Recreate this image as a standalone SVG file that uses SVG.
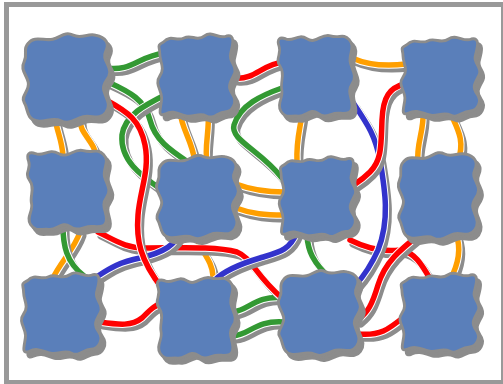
<svg xmlns="http://www.w3.org/2000/svg" xmlns:xlink="http://www.w3.org/1999/xlink" width="503" height="384" viewBox="0 0 503 384">
<style>
.sh{fill:none;stroke:#8c8c8c;stroke-width:7;stroke-linecap:round}
.wh{fill:none;stroke:#fff;stroke-width:7.5;stroke-linecap:round}
.c{fill:none;stroke-width:5.5;stroke-linecap:round}
.o{stroke:#ff9f00}.g{stroke:#339933}.r{stroke:#ff0000}.b{stroke:#3333cc}
.nsh{fill:#8c8c8c;stroke:#8c8c8c;stroke-width:3}
.nd{fill:#5a7fba;stroke:#8c8c8c;stroke-width:3}
</style>
<defs>
<path id="bA" d="M -38,-34 C -32,-42 -22,-36 -14,-38 C -6,-40 -2,-46 6,-42 C 14,-38 20,-44 28,-42 C 38,-40 42,-34 38,-26 C 34,-18 42,-14 42,-6 C 42,2 34,4 36,12 C 38,20 44,26 38,34 C 32,42 24,36 16,38 C 8,40 2,46 -6,42 C -14,38 -22,44 -30,42 C -40,40 -38,30 -42,24 C -46,18 -36,12 -38,4 C -40,-4 -46,-8 -42,-16 C -38,-24 -44,-28 -38,-34 Z"/>
<path id="bB" d="M -36,-34 C -28,-42 -22,-34 -14,-38 C -6,-42 0,-34 8,-40 C 16,-46 24,-36 32,-40 C 42,-42 38,-30 36,-22 C 34,-14 44,-10 40,-2 C 36,6 32,10 38,18 C 44,26 38,36 30,36 C 22,36 18,44 10,40 C 2,36 -4,42 -12,40 C -20,38 -26,34 -34,38 C -44,42 -38,30 -38,22 C -38,14 -46,8 -40,0 C -34,-8 -40,-14 -40,-22 C -40,-30 -44,-30 -36,-34 Z"/>
<path id="bC" d="M -34,-38 C -26,-34 -20,-44 -10,-38 C 0,-32 6,-44 16,-41 C 26,-38 30,-44 37,-37 C 44,-30 36,-22 38,-14 C 40,-6 46,0 40,8 C 34,16 40,22 40,30 C 40,40 32,38 24,38 C 16,38 10,44 2,38 C -6,32 -12,42 -20,41 C -28,40 -34,44 -39,36 C -44,28 -36,22 -38,14 C -40,6 -34,-2 -40,-10 C -46,-18 -38,-22 -41,-30 C -44,-38 -40,-40 -34,-38 Z"/>
<path id="o1" d="M 55,118 C 57,132 62,140 63,156"/>
<path id="o2" d="M 80,120 C 80,135 95,140 97,160"/>
<path id="o3" d="M 180,112 C 182,130 192,140 195,162"/>
<path id="o4" d="M 208,112 C 210,130 204,145 207,165"/>
<path id="o5" d="M 352,58 C 370,66 390,66 406,64"/>
<path id="o6" d="M 302,114 C 300,130 296,140 297,162"/>
<path id="o7" d="M 423,114 C 424,130 416,145 418,162"/>
<path id="o8" d="M 450,112 C 458,130 465,140 458,162"/>
<path id="o9" d="M 236,184 C 252,190 265,192 284,192"/>
<path id="o10" d="M 236,208 C 252,214 265,215 284,215"/>
<path id="o11" d="M 80,232 C 74,250 60,262 52,280"/>
<path id="o12" d="M 195,232 C 198,250 212,258 213,276"/>
<path id="o13" d="M 456,234 C 462,250 458,265 450,280"/>
<path id="g1" d="M 106,68 C 132,72 138,56 165,53"/>
<path id="g2" d="M 108,82 C 130,92 145,100 150,120 C 155,140 170,150 188,162"/>
<path id="g3" d="M 165,95 C 145,105 125,115 122,135 C 120,160 140,175 162,190"/>
<path id="g4" d="M 282,88 C 262,95 240,105 234,125 C 230,140 260,150 282,178"/>
<path id="g5" d="M 63,226 C 63,245 66,262 84,276"/>
<path id="g6" d="M 307,236 C 308,250 312,262 332,280"/>
<path id="g7" d="M 233,312 C 250,310 255,295 284,298"/>
<path id="g8" d="M 233,336 C 250,335 255,320 284,322"/>
<path id="r1" d="M 235,78 C 255,80 262,64 284,62"/>
<path id="r2" d="M 106,100 C 128,112 140,120 145,145 C 150,170 140,190 138,215 C 136,240 140,260 162,288"/>
<path id="r3" d="M 98,232 C 115,240 125,248 145,248 C 180,248 215,246 237,252 C 252,258 255,275 282,298"/>
<path id="r4" d="M 100,322 C 120,325 132,326 142,318 C 150,310 155,304 165,303"/>
<path id="r5" d="M 404,84 C 390,88 383,96 382,120 C 381,145 382,160 370,172 C 362,180 358,182 352,186"/>
<path id="r6" d="M 350,240 C 370,250 385,252 400,250 C 415,252 422,265 432,282"/>
<path id="r7" d="M 420,234 C 400,250 385,262 378,285 C 372,305 368,312 358,320"/>
<path id="r8" d="M 358,334 C 380,336 388,330 405,316"/>
<path id="b1" d="M 354,104 C 368,125 375,135 380,160 C 385,190 390,220 378,250 C 370,268 362,278 355,286"/>
<path id="b2" d="M 182,230 C 175,245 165,252 140,258 C 120,262 110,268 98,276"/>
<path id="b3" d="M 297,232 C 290,250 280,252 260,258 C 240,264 225,270 215,280"/>
</defs>
<rect x="0" y="0" width="503" height="384" fill="#fff"/>
<rect x="6.5" y="4.5" width="497" height="378" fill="#fff" stroke="#999" stroke-width="5"/>
<g id="connectors">
<g id="c-o1"><use href="#o1" class="sh" transform="translate(3,4)"/><use href="#o1" class="wh"/><use href="#o1" class="c o"/></g>
<g id="c-o2"><use href="#o2" class="sh" transform="translate(3,4)"/><use href="#o2" class="wh"/><use href="#o2" class="c o"/></g>
<g id="c-o3"><use href="#o3" class="sh" transform="translate(3,4)"/><use href="#o3" class="wh"/><use href="#o3" class="c o"/></g>
<g id="c-o4"><use href="#o4" class="sh" transform="translate(3,4)"/><use href="#o4" class="wh"/><use href="#o4" class="c o"/></g>
<g id="c-o5"><use href="#o5" class="sh" transform="translate(3,4)"/><use href="#o5" class="wh"/><use href="#o5" class="c o"/></g>
<g id="c-o6"><use href="#o6" class="sh" transform="translate(3,4)"/><use href="#o6" class="wh"/><use href="#o6" class="c o"/></g>
<g id="c-o7"><use href="#o7" class="sh" transform="translate(3,4)"/><use href="#o7" class="wh"/><use href="#o7" class="c o"/></g>
<g id="c-o8"><use href="#o8" class="sh" transform="translate(3,4)"/><use href="#o8" class="wh"/><use href="#o8" class="c o"/></g>
<g id="c-o9"><use href="#o9" class="sh" transform="translate(3,4)"/><use href="#o9" class="wh"/><use href="#o9" class="c o"/></g>
<g id="c-o10"><use href="#o10" class="sh" transform="translate(3,4)"/><use href="#o10" class="wh"/><use href="#o10" class="c o"/></g>
<g id="c-o11"><use href="#o11" class="sh" transform="translate(3,4)"/><use href="#o11" class="wh"/><use href="#o11" class="c o"/></g>
<g id="c-o12"><use href="#o12" class="sh" transform="translate(3,4)"/><use href="#o12" class="wh"/><use href="#o12" class="c o"/></g>
<g id="c-o13"><use href="#o13" class="sh" transform="translate(3,4)"/><use href="#o13" class="wh"/><use href="#o13" class="c o"/></g>
<g id="c-g1"><use href="#g1" class="sh" transform="translate(3,4)"/><use href="#g1" class="wh"/><use href="#g1" class="c g"/></g>
<g id="c-g2"><use href="#g2" class="sh" transform="translate(3,4)"/><use href="#g2" class="wh"/><use href="#g2" class="c g"/></g>
<g id="c-g3"><use href="#g3" class="sh" transform="translate(3,4)"/><use href="#g3" class="wh"/><use href="#g3" class="c g"/></g>
<g id="c-g4"><use href="#g4" class="sh" transform="translate(3,4)"/><use href="#g4" class="wh"/><use href="#g4" class="c g"/></g>
<g id="c-g5"><use href="#g5" class="sh" transform="translate(3,4)"/><use href="#g5" class="wh"/><use href="#g5" class="c g"/></g>
<g id="c-g6"><use href="#g6" class="sh" transform="translate(3,4)"/><use href="#g6" class="wh"/><use href="#g6" class="c g"/></g>
<g id="c-g7"><use href="#g7" class="sh" transform="translate(3,4)"/><use href="#g7" class="wh"/><use href="#g7" class="c g"/></g>
<g id="c-g8"><use href="#g8" class="sh" transform="translate(3,4)"/><use href="#g8" class="wh"/><use href="#g8" class="c g"/></g>
<g id="c-r3"><use href="#r3" class="sh" transform="translate(3,4)"/><use href="#r3" class="wh"/><use href="#r3" class="c r"/></g>
<g id="c-r6"><use href="#r6" class="sh" transform="translate(3,4)"/><use href="#r6" class="wh"/><use href="#r6" class="c r"/></g>
<g id="c-b2"><use href="#b2" class="sh" transform="translate(3,4)"/><use href="#b2" class="wh"/><use href="#b2" class="c b"/></g>
<g id="c-b3"><use href="#b3" class="sh" transform="translate(3,4)"/><use href="#b3" class="wh"/><use href="#b3" class="c b"/></g>
<g id="c-b1"><use href="#b1" class="sh" transform="translate(3,4)"/><use href="#b1" class="wh"/><use href="#b1" class="c b"/></g>
<g id="c-r1"><use href="#r1" class="sh" transform="translate(3,4)"/><use href="#r1" class="wh"/><use href="#r1" class="c r"/></g>
<g id="c-r2"><use href="#r2" class="sh" transform="translate(3,4)"/><use href="#r2" class="wh"/><use href="#r2" class="c r"/></g>
<g id="c-r4"><use href="#r4" class="sh" transform="translate(3,4)"/><use href="#r4" class="wh"/><use href="#r4" class="c r"/></g>
<g id="c-r5"><use href="#r5" class="sh" transform="translate(3,4)"/><use href="#r5" class="wh"/><use href="#r5" class="c r"/></g>
<g id="c-r7"><use href="#r7" class="sh" transform="translate(3,4)"/><use href="#r7" class="wh"/><use href="#r7" class="c r"/></g>
<g id="c-r8"><use href="#r8" class="sh" transform="translate(3,4)"/><use href="#r8" class="wh"/><use href="#r8" class="c r"/></g>
</g>
<g id="n1"><use href="#bA" class="nsh" transform="translate(71,83) scale(1.02,1.02)"/><use href="#bA" class="nd" transform="translate(67,78) scale(1.02,1.02)"/></g>
<g id="n2"><use href="#bB" class="nsh" transform="translate(201,81) scale(0.93,1)"/><use href="#bB" class="nd" transform="translate(197,76) scale(0.93,1)"/></g>
<g id="n3"><use href="#bC" class="nsh" transform="translate(320,81) scale(0.9,0.98)"/><use href="#bC" class="nd" transform="translate(316,76) scale(0.9,0.98)"/></g>
<g id="n4"><use href="#bB" class="nsh" transform="translate(445,82) scale(0.95,0.95)"/><use href="#bB" class="nd" transform="translate(441,77) scale(0.95,0.95)"/></g>
<g id="n5"><use href="#bC" class="nsh" transform="translate(72,195) scale(0.96,0.96)"/><use href="#bC" class="nd" transform="translate(68,190) scale(0.96,0.96)"/></g>
<g id="n6"><use href="#bA" class="nsh" transform="translate(202,202) scale(0.96,0.96)"/><use href="#bA" class="nd" transform="translate(198,197) scale(0.96,0.96)"/></g>
<g id="n7"><use href="#bB" class="nsh" transform="translate(322,202) scale(0.92,0.96)"/><use href="#bB" class="nd" transform="translate(318,197) scale(0.92,0.96)"/></g>
<g id="n8"><use href="#bA" class="nsh" transform="translate(443,201) scale(0.94,1)"/><use href="#bA" class="nd" transform="translate(439,196) scale(0.94,1)"/></g>
<g id="n9"><use href="#bB" class="nsh" transform="translate(66,319) scale(0.96,0.98)"/><use href="#bB" class="nd" transform="translate(62,314) scale(0.96,0.98)"/></g>
<g id="n10"><use href="#bC" class="nsh" transform="translate(200,323) scale(0.92,0.98)"/><use href="#bC" class="nd" transform="translate(196,318) scale(0.92,0.98)"/></g>
<g id="n11"><use href="#bA" class="nsh" transform="translate(324,318) scale(0.96,0.98)"/><use href="#bA" class="nd" transform="translate(320,313) scale(0.96,0.98)"/></g>
<g id="n12"><use href="#bB" class="nsh" transform="translate(444,318) scale(0.95,0.95)"/><use href="#bB" class="nd" transform="translate(440,313) scale(0.95,0.95)"/></g>
</svg>
